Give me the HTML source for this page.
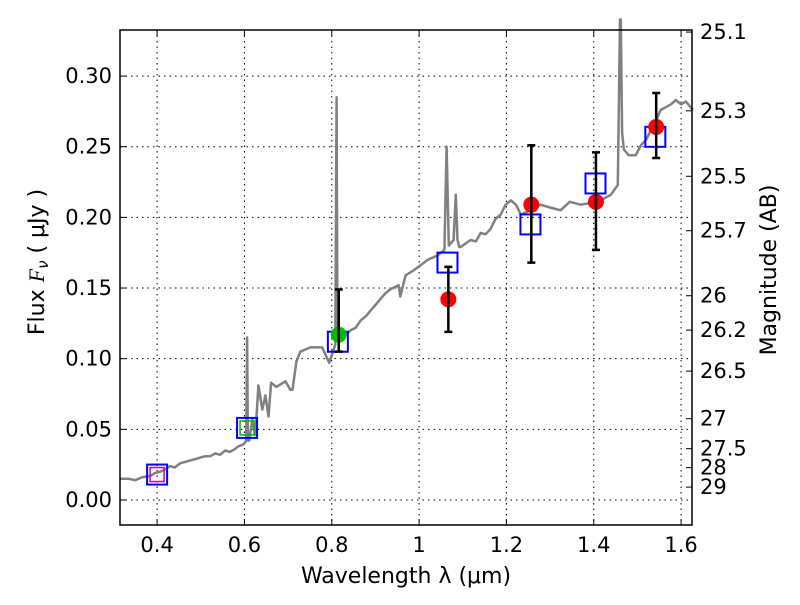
<!DOCTYPE html>
<html><head><meta charset="utf-8"><style>
body{margin:0;background:#fff;}
svg text{font-family:"DejaVu Sans","Liberation Sans",sans-serif;fill:#000;}
</style></head><body>
<svg id="chart" width="800" height="600" xmlns="http://www.w3.org/2000/svg">
<rect width="800" height="600" fill="#fff"/>
<g id="grid"></g><g id="marks"></g><g id="axes"></g>
</svg>
<script>
const specLam=[0.315,0.335,0.350,0.365,0.384,0.395,0.407,0.420,0.430,0.440,0.453,0.465,0.476,0.488,0.499,0.510,0.522,0.533,0.544,0.556,0.567,0.578,0.586,0.595,0.600,0.604,0.606,0.608,0.611,0.618,0.625,0.632,0.641,0.648,0.655,0.661,0.673,0.694,0.705,0.710,0.719,0.728,0.751,0.778,0.794,0.808,0.811,0.813,0.815,0.820,0.843,0.855,0.866,0.878,0.889,0.900,0.911,0.922,0.934,0.953,0.957,0.969,0.985,1.003,1.020,1.042,1.058,1.063,1.068,1.079,1.084,1.088,1.092,1.095,1.118,1.130,1.141,1.152,1.164,1.175,1.187,1.198,1.210,1.222,1.233,1.255,1.278,1.300,1.324,1.345,1.370,1.390,1.416,1.439,1.455,1.460,1.462,1.465,1.469,1.480,1.496,1.508,1.520,1.531,1.542,1.553,1.565,1.577,1.588,1.600,1.611,1.627];
const specFlux=[0.015,0.015,0.014,0.016,0.017,0.019,0.020,0.022,0.024,0.023,0.026,0.027,0.028,0.029,0.030,0.031,0.031,0.033,0.032,0.035,0.034,0.036,0.038,0.039,0.040,0.042,0.115,0.042,0.042,0.057,0.046,0.081,0.064,0.074,0.059,0.083,0.080,0.084,0.078,0.078,0.098,0.105,0.108,0.108,0.097,0.110,0.285,0.12,0.113,0.113,0.120,0.122,0.127,0.130,0.134,0.138,0.142,0.146,0.149,0.152,0.144,0.159,0.162,0.166,0.170,0.173,0.177,0.250,0.180,0.184,0.216,0.184,0.179,0.179,0.184,0.183,0.189,0.188,0.192,0.199,0.202,0.209,0.212,0.209,0.202,0.205,0.209,0.207,0.205,0.211,0.209,0.210,0.212,0.216,0.223,0.34,0.34,0.26,0.248,0.244,0.244,0.251,0.255,0.262,0.268,0.276,0.278,0.280,0.283,0.280,0.282,0.276];
const sqLam=[0.4,0.606,0.814,1.065,1.255,1.404,1.541];
const sqFlux=[0.018,0.051,0.112,0.168,0.195,0.224,0.257];
const ptLam=[0.816,1.067,1.257,1.405,1.543];
const ptFlux=[0.117,0.142,0.209,0.211,0.264];
const ptLo=[0.105,0.119,0.168,0.177,0.242];
const ptHi=[0.149,0.165,0.251,0.246,0.288];
const ptColor=['#00bb00','red','red','red','red'];
const xTicks=[0.4,0.6,0.8,1.0,1.2,1.4,1.6];
const xTickLabels=['0.4','0.6','0.8','1','1.2','1.4','1.6'];
const yTicks=[0,0.05,0.10,0.15,0.20,0.25,0.30];
const yTickLabels=['0.00','0.05','0.10','0.15','0.20','0.25','0.30'];
const magTicks=[25.1,25.3,25.5,25.7,26,26.2,26.5,27,27.5,28,29];
const magLabels=['25.1','25.3','25.5','25.7','26','26.2','26.5','27','27.5','28','29'];

const L=120,R=692,T=30,B=525;
const xmin=0.315,xmax=1.625,ymin=-0.0177,ymax=0.3326;
const X=v=>L+(v-xmin)/(xmax-xmin)*(R-L);
const Y=v=>B-(v-ymin)/(ymax-ymin)*(B-T);
const NS='http://www.w3.org/2000/svg';
function mk(tag,attrs,parent){const e=document.createElementNS(NS,tag);for(const k in attrs)e.setAttribute(k,attrs[k]);parent.appendChild(e);return e;}
const grid=document.getElementById('grid'),marks=document.getElementById('marks'),axes=document.getElementById('axes');

xTicks.forEach((t,i)=>{
  const g=mk('line',{x1:X(t),x2:X(t),y1:T,y2:B,stroke:'#000','stroke-dasharray':'1.5,4','stroke-width':1},grid);
  
  mk('line',{x1:X(t),x2:X(t),y1:B,y2:B-6,stroke:'#000'},axes);
  mk('line',{x1:X(t),x2:X(t),y1:T,y2:T+6,stroke:'#000'},axes);
  const tx=mk('text',{x:X(t),y:B+27,'font-size':21,'text-anchor':'middle'},axes);tx.textContent=xTickLabels[i];
  
});
yTicks.forEach((t,i)=>{
  const g=mk('line',{x1:L,x2:R,y1:Y(t),y2:Y(t),stroke:'#000','stroke-dasharray':'1.5,4','stroke-width':1},grid);
  
  mk('line',{x1:L,x2:L+6,y1:Y(t),y2:Y(t),stroke:'#000'},axes);
  const tx=mk('text',{x:L-8,y:Y(t)+7,'font-size':21,'text-anchor':'end'},axes);tx.textContent=yTickLabels[i];
  
});
magTicks.forEach((m,i)=>{
  const f=Math.pow(10,(23.9-m)/2.5);const y=Y(f);
  mk('line',{x1:R-6,x2:R,y1:y,y2:y,stroke:'#000'},axes);
  const tx=mk('text',{x:R+8,y:y+7,'font-size':21},axes);tx.textContent=magLabels[i];
  
});

let d='';specLam.forEach((l,i)=>{d+=(i?'L':'M')+X(l).toFixed(1)+','+Y(Math.min(specFlux[i],0.34)).toFixed(1);});
const sp=mk('path',{d:d,fill:'none',stroke:'#808080','stroke-width':2.5,'stroke-linejoin':'round'},marks);


sqLam.forEach((l,i)=>{
  const s=mk('rect',{x:X(l)-10,y:Y(sqFlux[i])-10,width:20,height:20,fill:'none',stroke:'#0000ff','stroke-width':2},marks);
  
});
const inner1=mk('rect',{x:X(sqLam[0])-7,y:Y(sqFlux[0])-7,width:14,height:14,fill:'none',stroke:'#cc00cc','stroke-width':1.5},marks);

const inner2=mk('rect',{x:X(sqLam[1])-7,y:Y(sqFlux[1])-7,width:14,height:14,fill:'none',stroke:'#00bb00','stroke-width':1.5},marks);


ptLam.forEach((l,i)=>{
  const c=mk('circle',{cx:X(l),cy:Y(ptFlux[i]),r:8,fill:ptColor[i]},marks);
  
  const x=X(l);
  const e=mk('path',{d:`M${x},${Y(ptLo[i])}L${x},${Y(ptHi[i])}M${x-4},${Y(ptLo[i])}L${x+4},${Y(ptLo[i])}M${x-4},${Y(ptHi[i])}L${x+4},${Y(ptHi[i])}`,stroke:'#000','stroke-width':2.5,fill:'none'},marks);
  
});

const fr=mk('rect',{x:L,y:T,width:R-L,height:B-T,fill:'none',stroke:'#000','stroke-width':1.5},axes);

const xt=mk('text',{x:406,y:583,'font-size':22,'text-anchor':'middle'},axes);xt.textContent='Wavelength  λ (μm)';

const yt=mk('text',{x:0,y:0,'font-size':22,'text-anchor':'middle',transform:'translate(44,262) rotate(-90)'},axes);
yt.textContent='Flux  ';const ys=mk('tspan',{'font-style':'italic','font-family':'Liberation Serif'},yt);ys.textContent='F';
const ys2=mk('tspan',{'font-style':'italic','font-size':15,dy:4},yt);ys2.textContent='ν';
const yr=mk('tspan',{dy:-4},yt);yr.textContent='  (  μJy )';

const rt=mk('text',{x:0,y:0,'font-size':22,'text-anchor':'middle',transform:'translate(776,270) rotate(-90)'},axes);rt.textContent='Magnitude (AB)';

</script>
</body></html>
